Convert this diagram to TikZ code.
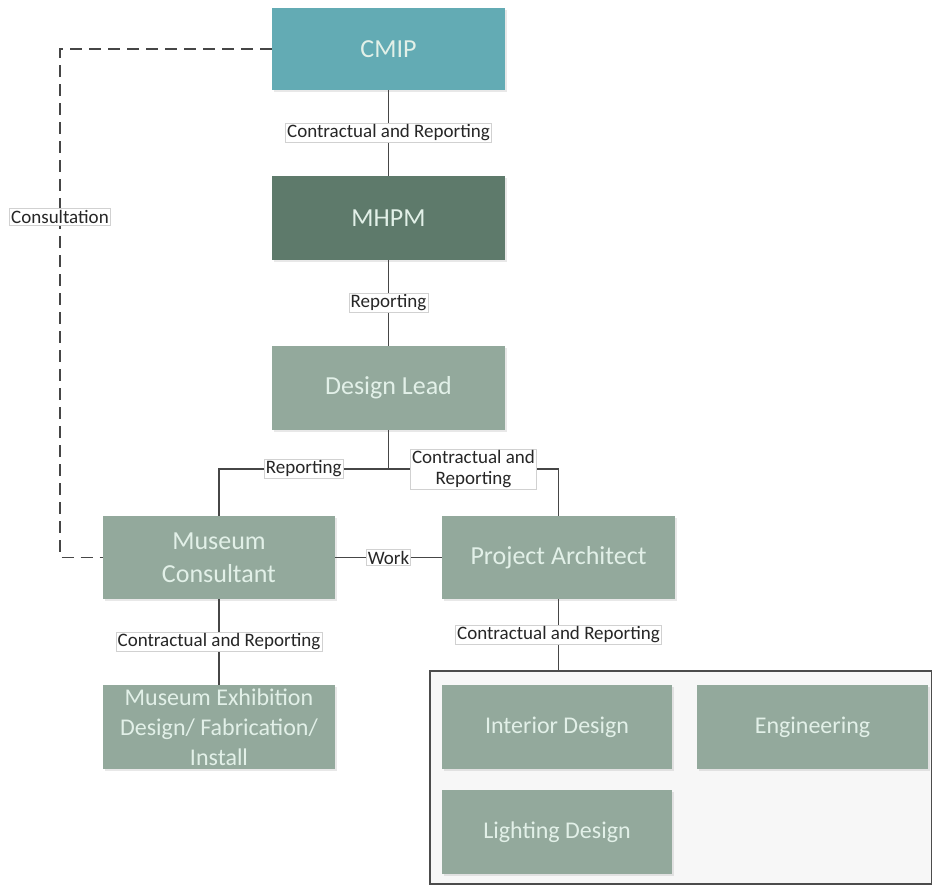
\documentclass[tikz,border=0pt]{standalone}
\usepackage{fontspec}
\setmainfont{Carlito}
\usetikzlibrary{shadows}
\definecolor{cmipteal}{RGB}{99,171,180}
\definecolor{mhpmgreen}{RGB}{94,122,107}
\definecolor{sage}{RGB}{147,169,156}
\definecolor{boxtext}{RGB}{226,240,232}
\definecolor{wire}{RGB}{70,70,70}
\tikzset{
  unit/.style={rectangle, fill=sage, text=boxtext, minimum width=233pt,
    minimum height=84pt, inner sep=2pt, align=center,
    font=\fontsize{26}{31}\selectfont,
    drop shadow={opacity=0.18, shadow xshift=2pt, shadow yshift=-2pt}},
  tag/.style={fill=white, draw=black!18, solid, line width=0.5pt, inner sep=1.5pt,
    align=center, text=black!85, font=\fontsize{19}{21}\selectfont},
  link/.style={draw=wire, line width=1.4pt},
  consult/.style={draw=wire, line width=1.4pt, dash pattern=on 12pt off 7pt},
}
\begin{document}
\begin{tikzpicture}[x=1pt,y=-1pt]
  \useasboundingbox (0,0) rectangle (932,885);
  \node[rectangle, fill=black!3, draw=black!70, line width=1.3pt,
    minimum width=502pt, minimum height=213pt] (grp) at (681,777.5) {};
  \node[unit, fill=cmipteal, minimum height=82pt] (cmip) at (388.5,49) {CMIP};
  \node[unit, fill=mhpmgreen] (mhpm) at (388.5,218) {MHPM};
  \node[unit] (lead) at (388.5,388) {Design Lead};
  \node[unit, minimum width=232pt, minimum height=83pt] (muscon) at (219,557.5)
    {Museum\\[2pt]Consultant};
  \node[unit, minimum height=83pt] (arch) at (558.5,557.5) {Project Architect};
  \node[unit, minimum width=232pt, font=\fontsize{24}{30}\selectfont] (exhib) at (219,727)
    {Museum Exhibition\\Design/ Fabrication/\\Install};
  \node[unit, minimum width=230pt, font=\fontsize{24}{29}\selectfont] (interior) at (557,727) {Interior Design};
  \node[unit, minimum width=231pt, font=\fontsize{24}{29}\selectfont] (eng) at (812.5,727) {Engineering};
  \node[unit, minimum width=230pt, font=\fontsize{24}{29}\selectfont] (light) at (557,832) {Lighting Design};
  \coordinate (split) at (388.5,469);
  \coordinate (bend) at (60,49);
  \begin{scope}[link]
    \draw (cmip) -- node[tag] {Contractual and Reporting} (mhpm);
    \draw (mhpm) -- node[tag] {Reporting} (lead);
    \draw (lead) -- (split);
    \draw (split) -| node[tag, pos=0.25] {Reporting} (muscon);
    \draw (split) -| node[tag, pos=0.25] {Contractual and\\Reporting} (arch);
    \draw (muscon) -- node[tag] {Work} (arch);
    \draw (muscon) -- node[tag] {Contractual and Reporting} (exhib);
    \draw (arch) -- node[tag, pos=0.5] {Contractual and Reporting} (arch |- grp.north);
  \end{scope}
  \draw[consult] (cmip.west) -- (bend) |- node[tag, pos=0.165] {Consultation} (muscon.west);
\end{tikzpicture}
\end{document}
